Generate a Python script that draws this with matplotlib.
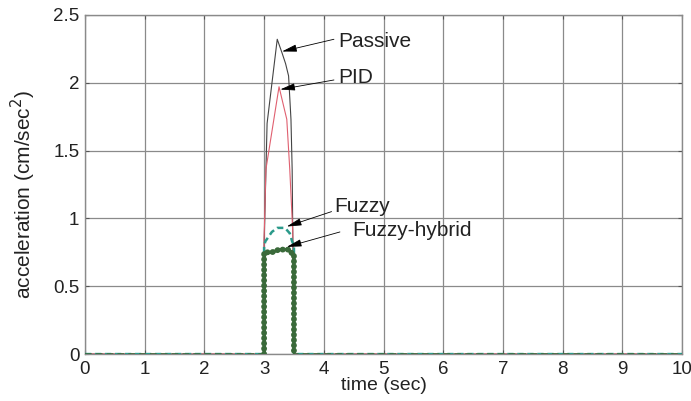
import matplotlib
matplotlib.use("Agg")
import matplotlib.pyplot as plt

plt.rcParams['font.family'] = ['Liberation Sans', 'DejaVu Sans']

# Data
t_passive = [0, 3.0, 3.0, 3.05, 3.22, 3.30, 3.36, 3.41, 3.45, 3.47, 3.48, 3.5, 10]
a_passive = [0, 0, 0.8, 1.7, 2.32, 2.22, 2.14, 2.05, 1.73, 1.36, 0.9, 0, 0]

t_pid = [0, 3.0, 3.0, 3.03, 3.25, 3.38, 3.43, 3.48, 3.5, 10]
a_pid = [0, 0, 0.85, 1.36, 1.97, 1.73, 1.36, 0.9, 0, 0]

t_fuzzy = [0, 3.0, 3.0, 3.02, 3.13, 3.22, 3.35, 3.43, 3.47, 3.5, 3.5, 10]
a_fuzzy = [0, 0, 0.79, 0.83, 0.9, 0.93, 0.93, 0.89, 0.83, 0.8, 0, 0]

t_hybrid = [0, 3.0, 3.0, 3.13, 3.25, 3.42, 3.47, 3.5, 3.5, 10]
a_hybrid = [0, 0, 0.75, 0.75, 0.77, 0.77, 0.74, 0.74, 0, 0]

x_ticks = [0, 1, 2, 3, 4, 5, 6, 7, 8, 9, 10]
y_ticks = [0, 0.5, 1, 1.5, 2, 2.5]
y_ticklabels = ['0', '0.5', '1', '1.5', '2', '2.5']

labels = ['Passive', 'PID', 'Fuzzy', 'Fuzzy-hybrid']
label_text_xy = [(4.25, 2.30), (4.25, 2.04), (4.17, 1.09), (4.48, 0.91)]
arrow_tail_xy = [(4.17, 2.32), (4.17, 2.02), (4.13, 1.05), (4.27, 0.90)]
arrow_tip_xy = [(3.30, 2.23), (3.27, 1.95), (3.38, 0.94), (3.38, 0.79)]

fig = plt.figure(figsize=(6.91, 4.01), dpi=100)
ax = fig.add_axes([0.123, 0.117, 0.864, 0.846])

ax.plot(t_passive, a_passive, color='#444444', lw=0.8, zorder=3)
ax.plot(t_pid, a_pid, color='#e06070', lw=0.8, zorder=4)
ax.plot(t_fuzzy, a_fuzzy, color='#2a9a8a', lw=1.8, ls=(0, (2.5, 1.5)), zorder=5)
# hybrid: dashed baseline + dense dotted look on the pulse part
ax.plot(t_hybrid, a_hybrid, color='#3a6a3a', lw=1.2, ls=(0, (4, 2.5)), zorder=5)
pulse_t = [t for t in t_hybrid if 3.0 <= t <= 3.5]
pulse_a = [a for t, a in zip(t_hybrid, a_hybrid) if 3.0 <= t <= 3.5]
ax.plot(pulse_t, pulse_a, color='#3a6a3a', lw=4.2, ls=(0, (0.05, 0.85)),
        dash_capstyle='round', solid_capstyle='round', zorder=6)

for lab, txy, tail, tip in zip(labels, label_text_xy, arrow_tail_xy, arrow_tip_xy):
    ax.annotate('', xy=tip, xytext=tail,
                arrowprops=dict(arrowstyle='-|>,head_length=0.9,head_width=0.22',
                                color='black', lw=0.6, shrinkA=0, shrinkB=0),
                zorder=7)
    ax.text(txy[0], txy[1], lab, fontsize=15, ha='left', va='center', color='#222222')

ax.set_xlim(0, 10)
ax.set_ylim(0, 2.5)
ax.set_xticks(x_ticks)
ax.set_yticks(y_ticks)
ax.set_yticklabels(y_ticklabels)
ax.grid(True, color='#8a8a8a', lw=0.9)
ax.set_axisbelow(True)
for s in ax.spines.values():
    s.set_color('#8a8a8a')
    s.set_linewidth(1.0)
ax.tick_params(direction='in', length=3, color='#555555', labelsize=13.5,
               labelcolor='#222222', top=True, right=True)
ax.tick_params(axis='x', pad=5)
ax.tick_params(axis='y', pad=4)
ax.set_xlabel('time (sec)', fontsize=14, color='#222222', labelpad=-1)
ax.set_ylabel('acceleration (cm/sec$^2$)', fontsize=15, color='#222222')
ax.yaxis.set_label_coords(-0.078, 0.47)

fig.savefig('out.png', dpi=100)
